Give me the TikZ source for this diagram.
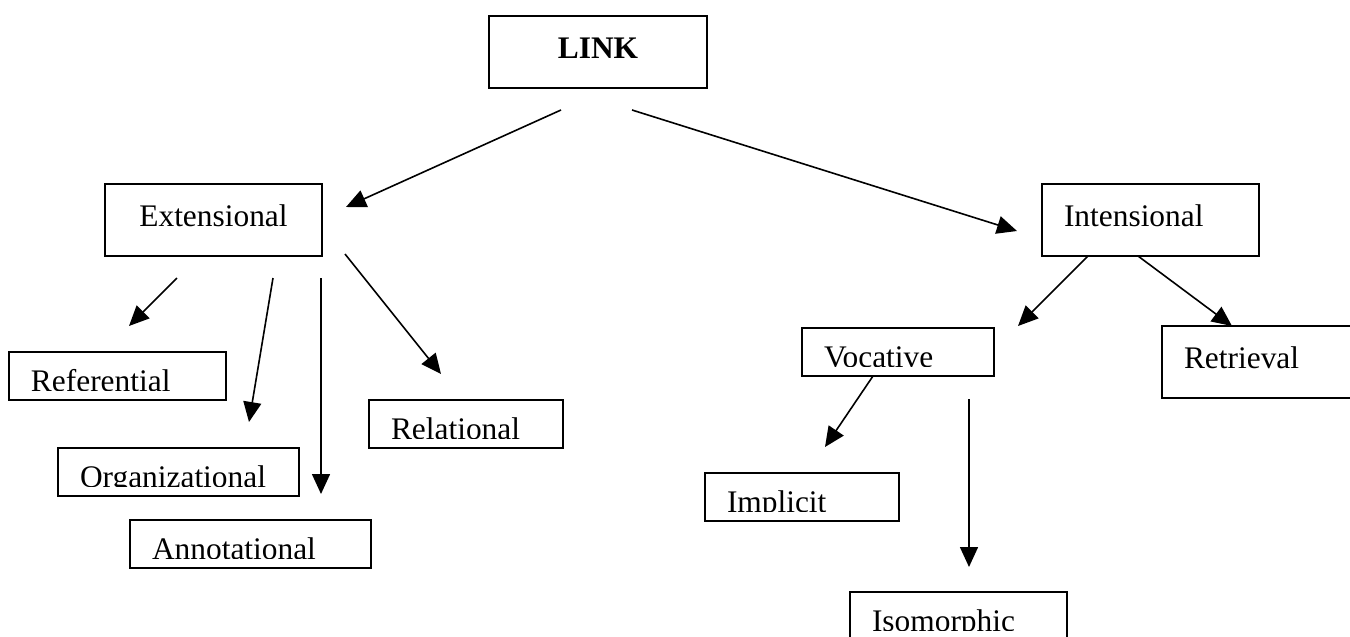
\documentclass[tikz,border=0pt]{standalone}
\usepackage{fontspec}
\setmainfont{Liberation Serif}
\usetikzlibrary{arrows.meta}

\tikzset{
  bigbox/.style={rectangle, draw, line width=1pt, anchor=north west, minimum height=36pt, text height=10.5pt, text depth=4.5pt, inner ysep=0pt},
  cutbox/.style={rectangle, draw, line width=1pt, anchor=north west, minimum height=24pt, text height=15pt, text depth=0pt, inner ysep=0pt, inner xsep=11pt, align=left},
  link/.style={line width=0.8pt, -{Triangle[length=10pt, width=9pt]}}
}

\begin{document}
\begin{tikzpicture}[x=0.5pt, y=-0.5pt, font=\fontsize{15.7}{18}\selectfont]
\useasboundingbox (0,0) rectangle (1350,637);

\node[bigbox, minimum width=109pt, font=\fontsize{15.7}{18}\selectfont\bfseries] (top) at (488,15) {LINK};
\node[bigbox, minimum width=108.5pt] (ext) at (104,183) {Extensional};
\node[bigbox, text width=86.5pt, inner xsep=11pt, align=left] (int) at (1041,183) {Intensional};

% extensional branch
\node[cutbox, text width=86.5pt] (ref) at (8,351) {Referential};
\node[cutbox, text width=98.5pt] (org) at (57,447) {Organizational};
\node[cutbox, text width=98.5pt] (ann) at (129,519) {Annotational};
\node[cutbox, text width=75pt] (rel) at (368,399) {Relational};

% intensional branch
\node[cutbox, text width=74pt] (voc) at (801,327) {Vocative};
\node[bigbox, text width=86.5pt, inner xsep=11pt, align=left] (ret) at (1161,325) {Retrieval};
\node[cutbox, text width=75pt] (imp) at (704,472) {Implicit};
\node[cutbox, text width=86.5pt] (iso) at (849,591) {Isomorphic};

% text is cut off at the bottom of the small boxes
\foreach \n in {ref,org,ann,rel,voc,imp,iso}
  \fill[white] ([shift={(1.1pt,1.1pt)}]\n.south west) rectangle ([shift={(-1.1pt,5pt)}]\n.south east);

\coordinate (top-l) at (561,110);
\coordinate (top-r) at (632,110);
\coordinate (ext-in) at (346,207);
\coordinate (int-in) at (1017,231);
\draw[link] (top-l) -- (ext-in);
\draw[link] (top-r) -- (int-in);

\coordinate (ext-a) at (177,278);
\coordinate (ext-b) at (273,278);
\coordinate (ext-c) at (321,278);
\coordinate (ext-d) at (345,254);
\coordinate (ref-in) at (129,326);
\coordinate (org-in) at (249,422);
\coordinate (ann-in) at (321,494);
\coordinate (rel-in) at (441,374);
\draw[link] (ext-a) -- (ref-in);
\draw[link] (ext-b) -- (org-in);
\draw[link] (ext-c) -- (ann-in);
\draw[link] (ext-d) -- (rel-in);

\coordinate (int-a) at (1088,256);
\coordinate (int-b) at (1138,256);
\coordinate (voc-in) at (1018,326);
\coordinate (ret-in) at (1232,326);
\draw[link] (int-a) -- (voc-in);
\draw[link] (int-b) -- (ret-in);

\coordinate (voc-a) at (873,376);
\coordinate (voc-b) at (969,399);
\coordinate (imp-in) at (825,447);
\coordinate (iso-in) at (969,567);
\draw[link] (voc-a) -- (imp-in);
\draw[link] (voc-b) -- (iso-in);

\end{tikzpicture}
\end{document}
